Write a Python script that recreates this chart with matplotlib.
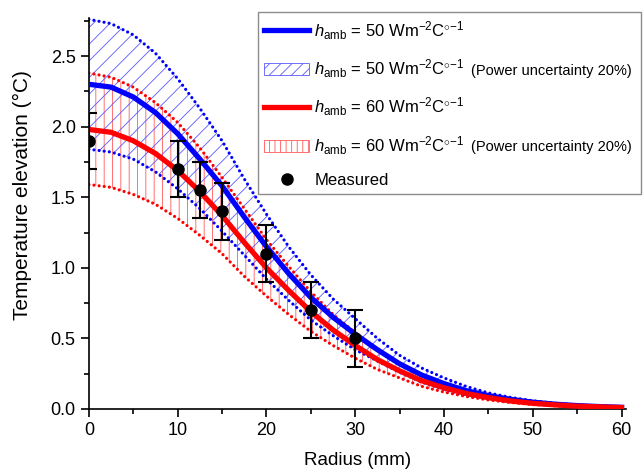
import numpy as np
import matplotlib
matplotlib.use('Agg')
import matplotlib.pyplot as plt
import matplotlib.patches as mpatches
from matplotlib.lines import Line2D

plt.rcParams['font.family'] = ['Liberation Sans', 'DejaVu Sans']
plt.rcParams['mathtext.fontset'] = 'custom'
plt.rcParams['mathtext.rm'] = 'Liberation Sans'
plt.rcParams['mathtext.it'] = 'Liberation Sans:italic'
plt.rcParams['hatch.linewidth'] = 0.6

# --- data ---
radius = [0, 2.5, 5, 7.5, 10, 12.5, 15, 17.5, 20, 22.5, 25, 27.5, 30, 32.5, 35,
          37.5, 40, 42.5, 45, 47.5, 50, 52.5, 55, 57.5, 60]

t_h50 = [2.30, 2.28, 2.21, 2.10, 1.95, 1.77, 1.58, 1.36, 1.15, 0.96, 0.79, 0.65,
         0.53, 0.42, 0.32, 0.24, 0.18, 0.13, 0.095, 0.068, 0.048, 0.034, 0.024, 0.017, 0.012]
t_h50_hi = [2.76, 2.73, 2.65, 2.52, 2.34, 2.13, 1.90, 1.63, 1.38, 1.15, 0.95, 0.78,
            0.64, 0.50, 0.38, 0.29, 0.22, 0.16, 0.114, 0.082, 0.058, 0.041, 0.029, 0.020, 0.014]
t_h50_lo = [1.84, 1.82, 1.77, 1.68, 1.56, 1.42, 1.26, 1.09, 0.92, 0.77, 0.63, 0.52,
            0.42, 0.34, 0.26, 0.19, 0.14, 0.10, 0.076, 0.054, 0.038, 0.027, 0.019, 0.014, 0.010]

t_h60 = [1.98, 1.96, 1.90, 1.81, 1.69, 1.54, 1.37, 1.18, 1.00, 0.84, 0.69, 0.56,
         0.45, 0.35, 0.27, 0.20, 0.15, 0.11, 0.08, 0.057, 0.040, 0.029, 0.020, 0.015, 0.010]
t_h60_hi = [2.38, 2.35, 2.28, 2.17, 2.03, 1.85, 1.64, 1.42, 1.20, 1.01, 0.83, 0.67,
            0.54, 0.42, 0.32, 0.24, 0.18, 0.13, 0.096, 0.068, 0.048, 0.035, 0.024, 0.018, 0.012]
t_h60_lo = [1.59, 1.57, 1.52, 1.45, 1.35, 1.23, 1.10, 0.94, 0.80, 0.67, 0.55, 0.45,
            0.36, 0.28, 0.22, 0.16, 0.12, 0.088, 0.064, 0.046, 0.032, 0.023, 0.016, 0.012, 0.008]

meas_r = [0, 10, 12.5, 15, 20, 25, 30]
meas_t = [1.9, 1.7, 1.55, 1.4, 1.1, 0.7, 0.5]
meas_err = [0.2, 0.2, 0.2, 0.2, 0.2, 0.2, 0.2]

lab50 = r'$h_{\mathrm{amb}}$ = 50 Wm$^{-2}$C$^{\circ\mathrm{-1}}$'
lab60 = r'$h_{\mathrm{amb}}$ = 60 Wm$^{-2}$C$^{\circ\mathrm{-1}}$'
note = '(Power uncertainty 20%)'

fig = plt.figure(figsize=(6.44, 4.72), dpi=100)
ax = fig.add_axes([0.138, 0.1335, 0.834, 0.8285])

# uncertainty bands
ax.fill_between(radius, t_h60_lo, t_h60_hi, facecolor='none', edgecolor=(1, 0.35, 0.35),
                linewidth=0, hatch='||', zorder=1)
ax.fill_between(radius, t_h50_lo, t_h50_hi, facecolor='none', edgecolor=(0.35, 0.35, 1),
                linewidth=0, hatch='//', zorder=1)

dot = (0, (0.01, 1.6))
for y, c in [(t_h60_hi, 'red'), (t_h60_lo, 'red'), (t_h50_hi, 'blue'), (t_h50_lo, 'blue')]:
    ax.plot(radius, y, color=c, lw=2.3, ls=dot, dash_capstyle='round', zorder=2)

ax.plot(radius, t_h50, color='blue', lw=3.8, zorder=3)
ax.plot(radius, t_h60, color='red', lw=3.8, zorder=3)

ax.errorbar(meas_r, meas_t, yerr=meas_err, fmt='o', color='black', ms=8,
            capsize=6, elinewidth=1.5, capthick=1.5, zorder=4)

ax.set_xlim(0, 60.5)
ax.set_ylim(0, 2.77)
ax.set_xticks([0, 10, 20, 30, 40, 50, 60])
ax.set_xticks(np.arange(5, 60, 10), minor=True)
ax.set_yticks([0.0, 0.5, 1.0, 1.5, 2.0, 2.5])
ax.set_yticks([0.25, 0.75, 1.25, 1.75, 2.25, 2.75], minor=True)
ax.yaxis.set_major_formatter(matplotlib.ticker.FormatStrFormatter('%.1f'))
ax.tick_params(which='both', direction='out', width=1.2, labelsize=13)
ax.tick_params(which='major', length=6)
ax.tick_params(which='minor', length=3.5)
for s in ['top', 'right']:
    ax.spines[s].set_visible(False)
for s in ['left', 'bottom']:
    ax.spines[s].set_linewidth(1.2)

ax.set_xlabel('Radius (mm)', fontsize=13.5, labelpad=9)
ax.set_ylabel('Temperature elevation (°C)', fontsize=15)
ax.yaxis.set_label_coords(-0.105, 0.547)

handles = [
    Line2D([], [], color='blue', lw=3.8),
    mpatches.Patch(facecolor='none', edgecolor=(0.35, 0.35, 1), hatch='///', lw=0.6),
    Line2D([], [], color='red', lw=3.8),
    mpatches.Patch(facecolor='none', edgecolor=(1, 0.35, 0.35), hatch='|||', lw=0.6),
    Line2D([], [], color='black', marker='o', ms=8, ls='none'),
]
labels = [lab50, lab50, lab60, lab60, 'Measured']
leg = ax.legend(handles, labels, loc='upper left', bbox_to_anchor=(0.40, 0.582, 0.595, 0.392),
                bbox_transform=fig.transFigure, mode='expand', fontsize=12,
                handlelength=2.7, handletextpad=0.3, labelspacing=0.95,
                fancybox=False, edgecolor='0.55', framealpha=1, borderaxespad=0)
leg.get_frame().set_linewidth(1.0)

# smaller note after the band entries
fig.canvas.draw()
W, H = fig.canvas.get_width_height()
texts = leg.get_texts()
for i in (1, 3):
    bb = texts[i].get_window_extent()
    fig.text((bb.x1 + 6) / W, (bb.y0 + bb.y1) / 2 / H - 0.004, note, fontsize=10.5,
             va='center', ha='left')

fig.savefig('out.png', dpi=100)
